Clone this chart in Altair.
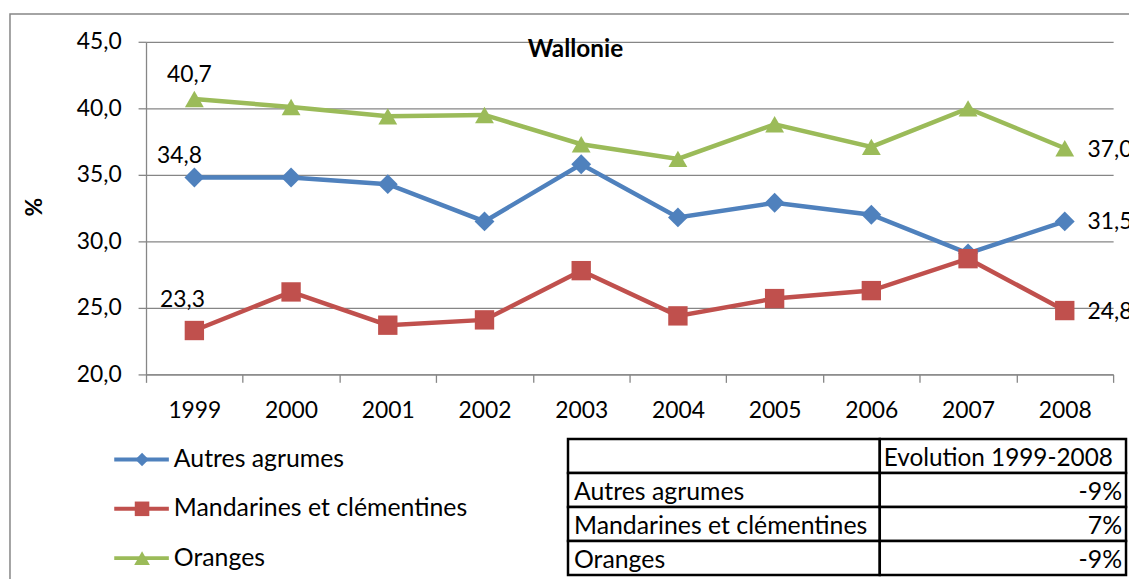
import altair as alt
import pandas as pd

# ---- data ----
years = ["1999", "2000", "2001", "2002", "2003", "2004", "2005", "2006", "2007", "2008"]
autres = [34.8, 34.8, 34.3, 31.5, 35.8, 31.8, 32.9, 32.0, 29.1, 31.5]
mandarines = [23.3, 26.2, 23.7, 24.1, 27.8, 24.4, 25.7, 26.3, 28.7, 24.8]
oranges = [40.7, 40.1, 39.4, 39.5, 37.3, 36.2, 38.8, 37.1, 40.0, 37.0]
series_names = ["Autres agrumes", "Mandarines et clémentines", "Oranges"]
evolution = ["-9%", "7%", "-9%"]
table_header = "Evolution 1999-2008"
chart_title = "Wallonie"
y_ticks = [20, 25, 30, 35, 40, 45]

# ---- styles ----
colors = ["#4F81BD", "#C0504D", "#9BBB59"]
shapes = ["diamond", "square", "triangle-up"]
FONT = "Lato"
FS = 23
FS_LEG = 25
GRID = "#868686"

rows = []
for name, vals in zip(series_names, [autres, mandarines, oranges]):
    for yr, v in zip(years, vals):
        rows.append({"year": yr, "series": name, "value": v})
df = pd.DataFrame(rows)

legend_df = pd.DataFrame({"series": series_names})
table_df = pd.DataFrame({
    "row": [0, 1, 2, 3],
    "label": [""] + series_names,
    "val": [table_header] + evolution,
})

x_enc = alt.X(
    "year:O",
    scale=alt.Scale(type="band", domain=years, paddingInner=0, paddingOuter=0),
    axis=alt.Axis(
        title=None, labelAngle=0, labelFont=FONT, labelFontSize=FS, labelColor="black",
        labelBaseline="alphabetic", labelPadding=35, tickBand="extent", tickSize=8,
        tickColor=GRID, tickWidth=1.3, domainColor=GRID, domainWidth=1.3, grid=False,
    ),
)
y_enc = alt.Y(
    "value:Q",
    scale=alt.Scale(domain=[20, 45], nice=False, zero=False),
    axis=alt.Axis(
        values=y_ticks,
        labelExpr="replace(format(datum.value, '.1f'), '.', ',')",
        labelFont=FONT, labelFontSize=FS, labelColor="black", labelPadding=17,
        tickSize=8, tickColor=GRID, tickWidth=1.3, domainColor=GRID, domainWidth=1.3,
        grid=True, gridColor=GRID, gridWidth=1.3,
        title="%", titleFont=FONT, titleFontSize=FS, titleFontWeight="bold",
        titleColor="black", titleAngle=270, titleX=-112, titleY=166,
        titleAlign="center", titleBaseline="middle",
    ),
)
color_enc = alt.Color("series:N", scale=alt.Scale(domain=series_names, range=colors), legend=None)
shape_enc = alt.Shape("series:N", scale=alt.Scale(domain=series_names, range=shapes), legend=None)

base = alt.Chart(df)
lines = base.mark_line(strokeWidth=4.5).encode(x=x_enc, y=y_enc, color=color_enc)
points = base.mark_point(filled=True, opacity=1).encode(
    x=x_enc, y=y_enc, color=color_enc, shape=shape_enc,
    size=alt.Size("series:N", scale=alt.Scale(domain=series_names, range=[400, 361, 420]), legend=None),
)

lab_expr = "replace(format(datum.value, '.1f'), '.', ',')"
def label_layer(series, year, align, dx, dy):
    return base.transform_filter(
        (alt.datum.series == series) & (alt.datum.year == year)
    ).transform_calculate(txt=lab_expr).mark_text(
        align=align, baseline="middle", dx=dx, dy=dy, font=FONT, fontSize=FS, color="black"
    ).encode(x=x_enc, y=y_enc, text="txt:N")

labels = [
    label_layer(series_names[2], years[0], "center", -5, -24),
    label_layer(series_names[0], years[0], "center", -15, -22),
    label_layer(series_names[1], years[0], "center", -12, -31),
    label_layer(series_names[2], years[-1], "left", 23, 2),
    label_layer(series_names[0], years[-1], "left", 23, 1),
    label_layer(series_names[1], years[-1], "left", 23, 1),
]

title_mark = alt.Chart(pd.DataFrame({"t": [chart_title]})).mark_text(
    font=FONT, fontSize=24.5, fontWeight="bold", align="center", baseline="middle", color="black"
).encode(x=alt.value(432.5), y=alt.value(8), text="t:N")

main = alt.layer(lines, points, *labels, title_mark)

# ---- legend below the plot ----
ly = alt.Y("series:N", scale=alt.Scale(type="point", domain=series_names, range=[420.7, 520], padding=0), axis=None)
lbase = alt.Chart(legend_df)
leg_line = lbase.mark_rule(strokeWidth=4).encode(x=alt.value(-32), x2=alt.value(23), y=ly, color=color_enc)
leg_pt = lbase.mark_point(filled=True, opacity=1).encode(
    x=alt.value(-4), y=ly, color=color_enc, shape=shape_enc,
    size=alt.Size("series:N", scale=alt.Scale(domain=series_names, range=[180, 250, 200]), legend=None),
)
leg_txt = lbase.mark_text(align="left", baseline="alphabetic", dy=7.5, font=FONT, fontSize=FS_LEG, color="black").encode(
    x=alt.value(28), y=ly, text="series:N"
)
legend = alt.layer(leg_line, leg_pt, leg_txt)

# ---- table ----
ty = alt.Y("row:O", scale=alt.Scale(type="band", domain=[0, 1, 2, 3], range=[400, 537], paddingInner=0, paddingOuter=0), axis=None)
tbase = alt.Chart(table_df)
cell0 = tbase.mark_rect(fill="white", stroke="black", strokeWidth=2.5).encode(x=alt.value(425), x2=alt.value(739), y=ty)
cell1 = tbase.mark_rect(fill="white", stroke="black", strokeWidth=2.5).encode(x=alt.value(739), x2=alt.value(987), y=ty)
t_lab = tbase.mark_text(align="left", baseline="alphabetic", dy=10.5, font=FONT, fontSize=FS_LEG, color="black").encode(
    x=alt.value(431), y=ty, text="label:N"
)
t_head = tbase.transform_filter(alt.datum.row == 0).mark_text(
    align="left", baseline="alphabetic", dy=10.5, font=FONT, fontSize=24.5, color="black"
).encode(x=alt.value(743), y=ty, text="val:N")
t_val = tbase.transform_filter(alt.datum.row > 0).mark_text(
    align="right", baseline="alphabetic", dy=10.5, font=FONT, fontSize=FS_LEG, color="black"
).encode(x=alt.value(983), y=ty, text="val:N")
table = alt.layer(cell0, cell1, t_lab, t_head, t_val)

# ---- outer frame ----
frame = alt.Chart(pd.DataFrame({"f": [0]})).mark_rect(
    fillOpacity=0, stroke=GRID, strokeWidth=1.5
).encode(x=alt.value(-137), x2=alt.value(1010), y=alt.value(-28), y2=alt.value(570))

chart = alt.layer(frame, main, legend, table).resolve_scale(
    y="independent", size="independent"
).properties(
    width=974, height=335,
    padding={"left": 139, "top": 32, "right": 16, "bottom": 204},
    autosize=alt.AutoSizeParams(type="none"),
    background="white",
).configure(font=FONT).configure_view(strokeOpacity=0)

chart.save("out.html", embed_options={"renderer": "svg", "actions": False})
